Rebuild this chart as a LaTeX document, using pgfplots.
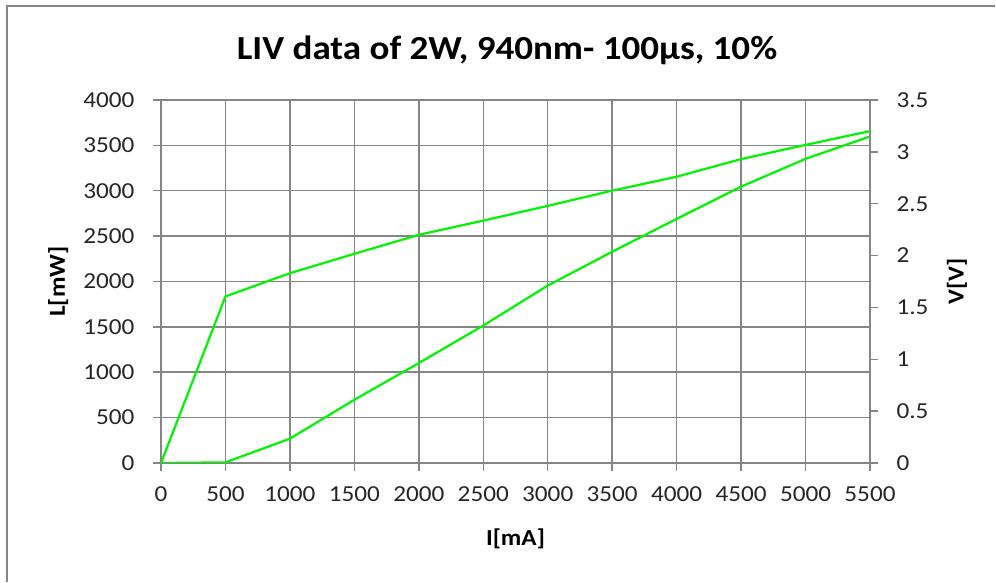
\documentclass[border=0pt]{standalone}
\usepackage{fontspec}
\setmainfont{Carlito}[FakeStretch=1.1]
\usepackage{pgfplots}
\usepackage{pgfplotstable}
\pgfplotsset{compat=1.18}
\definecolor{gridgray}{RGB}{134,134,134}
\definecolor{lgreen}{RGB}{0,245,0}

% L [mW] against I [mA]
\pgfplotstableread{
I     L
0     0
500   7
1000  268
1500  697
2000  1101
2500  1515
3000  1955
3500  2328
4000  2690
4500  3045
5000  3352
5500  3598
}\Ldata

% V [V] against I [mA]
\pgfplotstableread{
I     V
0     0
500   1.606
1000  1.83
1500  2.017
2000  2.20
2500  2.337
3000  2.479
3500  2.626
4000  2.76
4500  2.93
5000  3.067
5500  3.20
}\Vdata

\begin{document}
\begin{tikzpicture}[x=1bp,y=1bp]
  \pgfplotsset{
    every axis/.append style={
      scale only axis, width=709bp, height=363bp,
      at={(161bp,119bp)}, anchor=origin,
      xmin=0, xmax=5500,
      tick align=outside,
      major tick length=8bp,
      tick style={gridgray, line width=1.5bp},
      axis line style={gridgray, line width=1.5bp},
      ticklabel style={font=\fontsize{23}{23}\selectfont, text=black!85},
      label style={font=\bfseries\fontsize{23}{23}\selectfont},
      /pgf/number format/assume math mode=true,
      /pgf/number format/1000 sep={},
    },
  }

  \begin{axis}[
    ymin=0, ymax=4000,
    xtick={0,500,...,5500},
    ytick={0,500,...,4000},
    xtick pos=bottom, ytick pos=left,
    xticklabel style={yshift=-12bp},
    yticklabel style={xshift=-15bp},
    grid=major,
    major grid style={gridgray, line width=1.5bp},
    xlabel={I[mA]},
    ylabel={L[mW]},
    xlabel style={at={(axis description cs:0.5,-0.209)}, anchor=center},
    ylabel style={at={(axis description cs:-0.145,0.5)}, anchor=center},
  ]
    \addplot[lgreen, line width=2.2bp] table[x=I, y=L] {\Ldata};
  \end{axis}

  \begin{axis}[
    ymin=0, ymax=3.5,
    axis x line=none,
    axis y line*=right,
    ytick={0,0.5,...,3.5},
    yticklabel style={xshift=15bp},
    ylabel={V[V]},
    ylabel style={at={(axis description cs:1.1227,0.5)}, anchor=center},
  ]
    \addplot[lgreen, line width=2.2bp] table[x=I, y=V] {\Vdata};
  \end{axis}

  \draw[gridgray, line width=1.5bp] (7,0) -- (7,576) -- (995,576);
  \node[anchor=base] at (507,522.7)
    {\bfseries\fontsize{33.8}{34}\selectfont LIV data of 2W, 940nm- 100µs, 10\%};
  \path (0,0) rectangle (996,582);
\end{tikzpicture}
\end{document}
